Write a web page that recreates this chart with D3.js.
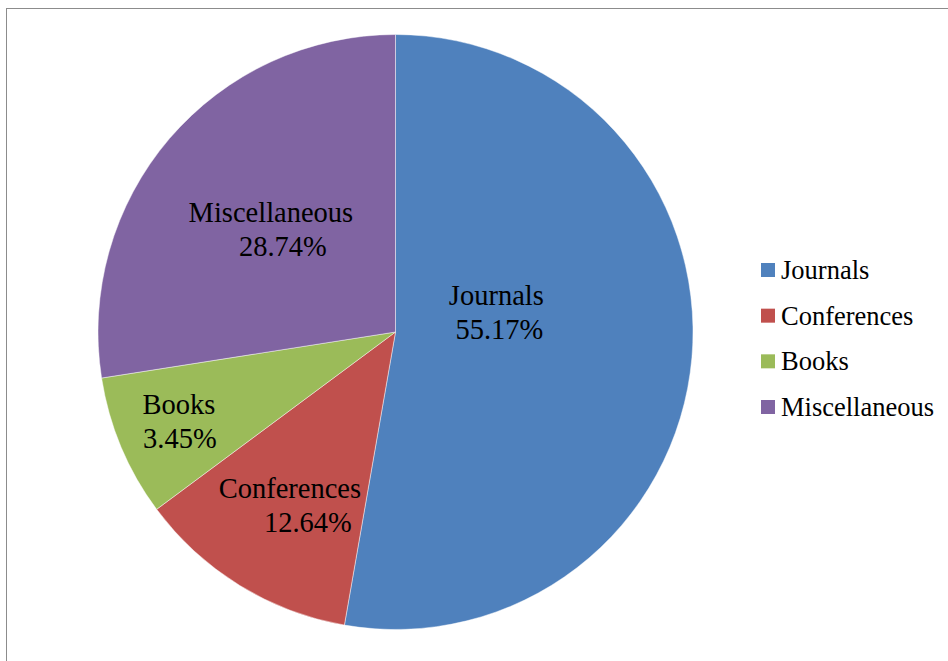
<!DOCTYPE html>
<html>
<head>
<meta charset="utf-8">
<script src="https://cdn.jsdelivr.net/npm/d3@7"></script>
<style>
  html, body { margin: 0; padding: 0; background: #fff; }
  svg { display: block; }
  svg text { font-family: 'Liberation Serif', 'Times New Roman', Times, 'DejaVu Serif', serif; }
</style>
</head>
<body>
<svg id="chart" width="948" height="661"></svg>
<script>
// Slice sizes as drawn in the picture, and the percentage text printed on them
var categories = ['Journals', 'Conferences', 'Books', 'Miscellaneous'];
var values = [48, 11, 7, 25];
var pctLabels = ['55.17%', '12.64%', '3.45%', '28.74%'];
var colors = ['#4F81BD', '#C0504D', '#9BBB59', '#8064A2'];

// label placement nudges from the arc centroid: [line1 dx, line2 dx, dy]
var labelNudge = [[-77, -74, -35], [-12, 6, 22], [-52, -51, 20], [11, 23, 14]];

var svg = d3.select('#chart');
var cx = 395.5, cy = 332, radius = 297.5;

// chart area frame (only top and left edges show)
svg.append('rect')
  .attr('x', 6.5)
  .attr('y', 8.5)
  .attr('width', 1000)
  .attr('height', 1000)
  .attr('fill', 'none')
  .attr('stroke', '#8c8c8c')
  .attr('stroke-width', 1);

var data = categories.map(function (c, i) {
  return { name: c, value: values[i], pct: pctLabels[i], color: colors[i] };
});

var pie = d3.pie()
  .sort(null)
  .value(function (d) { return d.value; });

var arc = d3.arc().innerRadius(0).outerRadius(radius);
var labelArc = d3.arc().innerRadius(radius * 0.6).outerRadius(radius * 0.6);

var g = svg.append('g').attr('transform', 'translate(' + cx + ',' + cy + ')');
var arcs = pie(data);

g.selectAll('path.slice')
  .data(arcs)
  .enter()
  .append('path')
  .classed('slice', true)
  .attr('d', arc)
  .attr('fill', function (d) { return d.data.color; })
  .attr('stroke', '#ffffff')
  .attr('stroke-opacity', 0.6)
  .attr('stroke-width', 0.75);

// two-line labels inside the slices
var lineGap = 34;
var labels = g.selectAll('text.slice-label')
  .data(arcs)
  .enter()
  .append('text')
  .classed('slice-label', true)
  .attr('font-size', '28.5px')
  .attr('fill', '#000')
  .attr('text-anchor', 'middle');

labels.each(function (d, i) {
  var c = labelArc.centroid(d);
  var n = labelNudge[i];
  var t = d3.select(this);
  t.append('tspan')
    .attr('x', c[0] + n[0])
    .attr('y', c[1] + n[2] - lineGap / 2)
    .attr('dominant-baseline', 'central')
    .text(d.data.name);
  t.append('tspan')
    .attr('x', c[0] + n[1])
    .attr('y', c[1] + n[2] + lineGap / 2)
    .attr('dominant-baseline', 'central')
    .text(d.data.pct);
});

// legend
var legendY = d3.scalePoint()
  .domain(categories)
  .range([270, 407]);

var legend = svg.append('g').classed('legend', true);
var items = legend.selectAll('g')
  .data(data)
  .enter()
  .append('g')
  .attr('transform', function (d) { return 'translate(761,' + legendY(d.name) + ')'; });

items.append('rect')
  .attr('x', 0)
  .attr('y', -7)
  .attr('width', 14)
  .attr('height', 14)
  .attr('fill', function (d) { return d.color; });

items.append('text')
  .attr('x', 20)
  .attr('y', 0)
  .attr('dominant-baseline', 'central')
  .attr('font-size', '26.5px')
  .attr('fill', '#000')
  .text(function (d) { return d.name; });
</script>
</body>
</html>
